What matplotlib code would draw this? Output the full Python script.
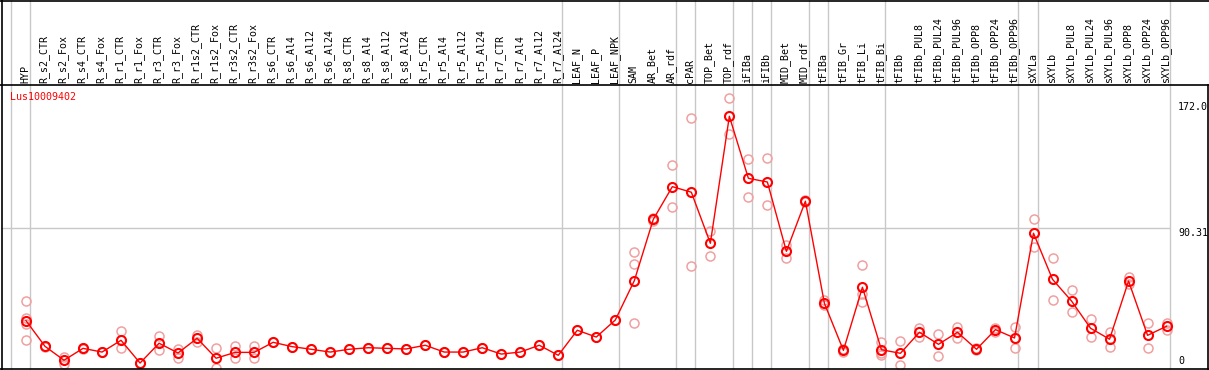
import matplotlib
matplotlib.use("Agg")
import matplotlib.pyplot as plt
from matplotlib.lines import Line2D

categories = ["HYP", "R_s2_CTR", "R_s2_Fox", "R_s4_CTR", "R_s4_Fox", "R_r1_CTR", "R_r1_Fox",
              "R_r3_CTR", "R_r3_Fox", "R_r1s2_CTR", "R_r1s2_Fox", "R_r3s2_CTR", "R_r3s2_Fox",
              "R_s6_CTR", "R_s6_Al4", "R_s6_Al12", "R_s6_Al24", "R_s8_CTR", "R_s8_Al4", "R_s8_Al12",
              "R_s8_Al24", "R_r5_CTR", "R_r5_Al4", "R_r5_Al12", "R_r5_Al24", "R_r7_CTR", "R_r7_Al4",
              "R_r7_Al12", "R_r7_Al24", "LEAF_N", "LEAF_P", "LEAF_NPK", "SAM", "AR_Bet", "AR_rdf",
              "cPAR", "TOP_Bet", "TOP_rdf", "iFIBa", "iFIBb", "MID_Bet", "MID_rdf", "tFIBa",
              "tFIB_Gr", "tFIB_Li", "tFIB_Bi", "tFIBb", "tFIBb_PUL8", "tFIBb_PUL24", "tFIBb_PUL96",
              "tFIBb_OPP8", "tFIBb_OPP24", "tFIBb_OPP96", "sXYLa", "sXYLb", "sXYLb_PUL8",
              "sXYLb_PUL24", "sXYLb_PUL96", "sXYLb_OPP8", "sXYLb_OPP24", "sXYLb_OPP96"]

means = [30.6, 14.0, 5.0, 12.7, 10.3, 17.9, 3.2, 16.0, 9.7, 19.2,
         6.3, 10.1, 10.1, 16.6, 13.8, 12.1, 10.3, 12.1, 13.1, 12.7,
         12.3, 14.7, 10.3, 10.3, 13.1, 9.0, 10.3, 14.7, 8.2, 24.4,
         20.0, 31.0, 56.4, 96.1, 117.2, 113.6, 80.6, 162.7, 122.6, 120.2,
         75.4, 107.8, 41.8, 11.4, 52.2, 11.8, 9.5, 23.1, 15.3, 23.1,
         12.1, 24.8, 19.4, 87.1, 57.3, 43.3, 25.7, 18.6, 56.2, 21.1,
         27.0]

replicates = [[43.3, 32.1, 28.4, 18.1], [14.5, 13.5], [7.3, 2.9], [13.0, 12.4], [10.3, 10.3],
              [23.9, 12.7], [3.2, 3.2], [20.7, 11.4], [12.5, 6.5], [21.5, 17.0],
              [13.1, 0.0], [14.2, 6.3], [14.2, 6.3], [16.6], [13.8], [12.1], [10.3], [12.1],
              [13.1], [12.7], [12.3], [14.7], [10.3], [10.3], [13.1], [9.0], [10.3], [14.7],
              [8.2], [24.4], [20.0], [31.0], [74.8, 67.2, 28.9], [97.0, 95.2], [131.0, 103.9],
              [161.4, 65.7], [88.8, 72.4], [174.3, 151.1], [134.9, 110.3], [135.5, 105.2],
              [79.5, 71.3], [108.5, 107.1], [44.0, 40.5], [12.5, 10.3], [66.4, 47.6, 42.5],
              [17.0, 10.0, 8.4], [17.3, 1.7], [26.1, 20.2], [22.2, 7.5], [26.5, 19.6],
              [12.6, 11.6], [26.1, 23.5], [26.5, 12.7], [96.1, 78.4], [70.9, 44.0],
              [50.4, 36.0], [31.7, 20.0], [23.3, 13.4], [58.6, 54.3], [28.9, 12.7], [29.1, 24.8]]

group_ends = [-1, 0, 28, 31, 34, 35, 37, 38, 39, 41, 42, 45, 52, 53, 60]
gene = "Lus10009402"
ytick_values = [172.0, 90.31, 0]
ytick_labels = ["172.0", "90.31", "0"]

W, H = 1209, 370
fig = plt.figure(figsize=(W / 100, H / 100), dpi=100)
ax_l, ax_r, ax_t, ax_b = 1, 1170, 85, 369
ax = fig.add_axes([ax_l / W, (H - ax_b) / H, (ax_r - ax_l) / W, (ax_b - ax_t) / H])
ax.set_xlim(-1.315, 60.18)
ax.set_ylim(-0.65, 182.9)
ax.axis("off")

grid_c = "#c8c8c8"
red = "#ff0000"
pink = "#f0a0a0"
mono = "DejaVu Sans Mono"

# vertical group separators (through label area)
ymax_ax = (ax_b - 0) / (ax_b - ax_t)
for g in group_ends[:-1]:
    ax.axvline(g + 0.21, 0, ymax_ax, color=grid_c, lw=1, clip_on=False, zorder=0)
# right edge line
fig.add_artist(Line2D([ax_r / W, ax_r / W], [0, 1], color=grid_c, lw=1, zorder=0))
# horizontal mid grid line
ax.axhline(ytick_values[1], color=grid_c, lw=1, zorder=0)

# borders
k = "black"
fig.add_artist(Line2D([0, 1], [1 - ax_t / H, 1 - ax_t / H], color=k, lw=1.2))
fig.add_artist(Line2D([0, 1], [1 - 0.5 / H, 1 - 0.5 / H], color=k, lw=1.2))
fig.add_artist(Line2D([1.5 / W, 1.5 / W], [0, 1], color=k, lw=1.2))
fig.add_artist(Line2D([0, 1], [1 - ax_b / H, 1 - ax_b / H], color=k, lw=1.2))
fig.add_artist(Line2D([1207.5 / W, 1207.5 / W], [1 - ax_b / H, 1 - ax_t / H], color=k, lw=1.2))

xs = list(range(len(categories)))
# replicates
for i, reps in enumerate(replicates):
    ax.plot([i] * len(reps), reps, linestyle="none", marker="o", ms=6.5, mfc="none",
            mec=pink, mew=1.1, clip_on=False, zorder=2)
# mean line and markers
ax.plot(xs, means, color=red, lw=1, zorder=3)
ax.plot(xs, means, linestyle="none", marker="o", ms=6.5, mfc="none", mec=red, mew=1.5,
        zorder=4, clip_on=False)

# category labels
for i, c in enumerate(categories):
    ax.text(i - 0.05, 1.0 + 2 / (ax_b - ax_t), c, rotation=90, ha="center", va="bottom",
            fontsize=7.2, family=mono, transform=ax.get_xaxis_transform(), color="black")

# gene label
ax.text(9 / (ax_r - ax_l), 1 - 12 / (ax_b - ax_t), gene, color=red, fontsize=7.2,
        family=mono, ha="left", va="center", transform=ax.transAxes)

# right-side value labels
tr = ax.get_yaxis_transform()
xr = (1178 - ax_l) / (ax_r - ax_l)
ax.text(xr, ytick_values[0], ytick_labels[0], fontsize=7.2, family=mono, ha="left", va="top",
        transform=tr, clip_on=False)
ax.text(xr, ytick_values[1], ytick_labels[1], fontsize=7.2, family=mono, ha="left", va="top",
        transform=tr, clip_on=False)
ax.text(xr, ytick_values[2] + 1.5, ytick_labels[2], fontsize=7.2, family=mono, ha="left",
        va="bottom", transform=tr, clip_on=False)

fig.savefig("out.png", dpi=100)
